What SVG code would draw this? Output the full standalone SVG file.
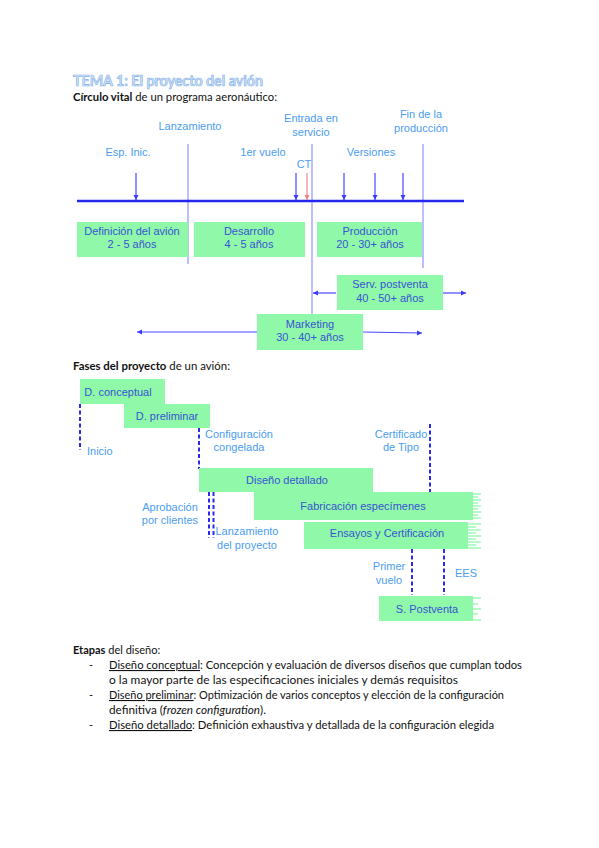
<svg xmlns="http://www.w3.org/2000/svg" width="599" height="848" viewBox="0 0 599 848">
<style>
.doc{font-family:Lato,"Open Sans","Liberation Sans",sans-serif;font-size:11px;fill:#111}
.b{font-weight:bold}
.lbl{font-family:"Liberation Sans",Arial,sans-serif;font-size:11px;fill:#4a9df0}
.bt{font-family:"Liberation Sans",Arial,sans-serif;font-size:11px;fill:#3a52d4;text-anchor:middle}
.box{fill:#8ff9a9}
.vl{stroke:#9a9aff;stroke-width:1.3}
.ar{stroke:#4747ff;stroke-width:1.2;fill:none}
.dl{stroke:#2a2aee;stroke-width:2;stroke-dasharray:4 2.5;fill:none}
.st{stroke:#8ff9a9;stroke-width:1.3}
</style>
<defs>
<marker id="ah" markerWidth="6" markerHeight="6" refX="5" refY="3" orient="auto" markerUnits="userSpaceOnUse">
<path d="M0,0.5 L5,3 L0,5.5 Z" fill="#3a3aff"/>
</marker>
<marker id="ahr" markerWidth="6" markerHeight="6" refX="5" refY="3" orient="auto" markerUnits="userSpaceOnUse">
<path d="M0,0.5 L5,3 L0,5.5 Z" fill="#f08080"/>
</marker>
</defs>
<rect width="599" height="848" fill="#fff"/>

<text x="73" y="86" font-family="Lato,'Open Sans',sans-serif" font-size="14.5" font-weight="bold" fill="#cfe2f7" stroke="#7fb0e8" stroke-width="0.6" textLength="190" lengthAdjust="spacingAndGlyphs">TEMA 1: El proyecto del avión</text>
<text class="doc" x="73" y="101" textLength="204" lengthAdjust="spacingAndGlyphs"><tspan class="b">Círculo vital</tspan> de un programa aeronáutico:</text>

<!-- Top timeline -->
<g id="timeline">
<line x1="188" y1="144" x2="188" y2="264" class="vl"/>
<line x1="312" y1="144" x2="312" y2="315" class="vl"/>
<line x1="423" y1="144" x2="423" y2="268" class="vl"/>
<line x1="77" y1="201" x2="464" y2="201" stroke="#2626f0" stroke-width="2.6"/>
</g>
<g id="markers">
<line x1="136" y1="173" x2="136" y2="200" class="ar" marker-end="url(#ah)"/>
<line x1="296" y1="173" x2="296" y2="200" class="ar" marker-end="url(#ah)"/>
<line x1="307" y1="173" x2="307" y2="200" stroke="#f08a8a" stroke-width="1.2" marker-end="url(#ahr)"/>
<line x1="344" y1="173" x2="344" y2="200" class="ar" marker-end="url(#ah)"/>
<line x1="375" y1="173" x2="375" y2="200" class="ar" marker-end="url(#ah)"/>
<line x1="403" y1="173" x2="403" y2="200" class="ar" marker-end="url(#ah)"/>
</g>
<g id="labels-top" class="lbl" text-anchor="middle">
<text x="190" y="130">Lanzamiento</text>
<text x="128" y="156">Esp. Inic.</text>
<text x="263" y="156">1er vuelo</text>
<text x="304" y="168">CT</text>
<text x="311" y="122">Entrada en</text>
<text x="311" y="136">servicio</text>
<text x="421" y="118">Fin de la</text>
<text x="421" y="132">producción</text>
<text x="371" y="156">Versiones</text>
</g>
<g id="n-definicion">
<rect class="box" x="77" y="222" width="111" height="35"/>
<text class="bt" x="132" y="235">Definición del avión</text>
<text class="bt" x="132" y="248">2 - 5 años</text>
</g>
<g id="n-desarrollo">
<rect class="box" x="194" y="222" width="111" height="35"/>
<text class="bt" x="249" y="235">Desarrollo</text>
<text class="bt" x="249" y="248">4 - 5 años</text>
</g>
<g id="n-produccion">
<rect class="box" x="317" y="222" width="105" height="35"/>
<text class="bt" x="370" y="235">Producción</text>
<text class="bt" x="370" y="248">20 - 30+ años</text>
</g>
<g id="connectors-top">
<line x1="336" y1="293" x2="313" y2="293" class="ar" marker-end="url(#ah)"/>
<line x1="443" y1="293" x2="466" y2="293" class="ar" marker-end="url(#ah)"/>
<line x1="257" y1="332" x2="137" y2="332" class="ar" marker-end="url(#ah)"/>
<line x1="363" y1="332" x2="422" y2="333" class="ar" marker-end="url(#ah)"/>
</g>
<g id="n-postventa">
<rect class="box" x="337" y="275" width="106" height="35"/>
<text class="bt" x="390" y="288">Serv. postventa</text>
<text class="bt" x="390" y="302">40 - 50+ años</text>
</g>
<g id="n-marketing">
<rect class="box" x="257" y="314" width="106" height="36"/>
<text class="bt" x="310" y="328">Marketing</text>
<text class="bt" x="310" y="341">30 - 40+ años</text>
</g>

<text class="doc" x="73" y="370" textLength="157" lengthAdjust="spacingAndGlyphs"><tspan class="b">Fases del proyecto</tspan> de un avión:</text>

<!-- Phases diagram -->
<g id="connectors-phases">
<line x1="80" y1="404" x2="80" y2="450" class="dl"/>
<line x1="199" y1="428" x2="199" y2="469" class="dl"/>
<line x1="430" y1="424" x2="430" y2="492" class="dl"/>
<line x1="209" y1="492" x2="209" y2="538" class="dl"/>
<line x1="213.5" y1="492" x2="213.5" y2="538" class="dl"/>
<line x1="412" y1="549" x2="412" y2="595" class="dl"/>
<line x1="444" y1="549" x2="444" y2="595" class="dl"/>
</g>
<g id="n-conceptual">
<rect class="box" x="80" y="379" width="85" height="25"/>
<text class="bt" x="118" y="396" font-size="11.5">D. conceptual</text>
</g>
<g id="n-preliminar">
<rect class="box" x="124" y="404" width="86" height="24"/>
<text class="bt" x="167" y="420" font-size="11.5">D. preliminar</text>
</g>
<g id="n-detallado">
<rect class="box" x="199" y="468" width="174" height="24"/>
<text class="bt" x="287" y="484" font-size="11.5">Diseño detallado</text>
</g>
<g id="n-fabricacion">
<rect class="box" x="254" y="492" width="219" height="28"/>
<g class="st">
<line x1="473" y1="494" x2="481" y2="494"/><line x1="473" y1="497" x2="478" y2="497"/>
<line x1="473" y1="500" x2="481" y2="500"/><line x1="473" y1="503" x2="478" y2="503"/>
<line x1="473" y1="506" x2="481" y2="506"/><line x1="473" y1="509" x2="478" y2="509"/>
<line x1="473" y1="512" x2="481" y2="512"/><line x1="473" y1="515" x2="478" y2="515"/>
<line x1="473" y1="518" x2="481" y2="518"/>
</g>
<text class="bt" x="363" y="510" font-size="11.5">Fabricación especímenes</text>
</g>
<g id="n-ensayos">
<rect class="box" x="304" y="522" width="164" height="27"/>
<g class="st">
<line x1="468" y1="524" x2="481" y2="524"/><line x1="468" y1="527" x2="476" y2="527"/>
<line x1="468" y1="530" x2="481" y2="530"/><line x1="468" y1="533" x2="476" y2="533"/>
<line x1="468" y1="536" x2="481" y2="536"/><line x1="468" y1="539" x2="476" y2="539"/>
<line x1="468" y1="542" x2="481" y2="542"/><line x1="468" y1="545" x2="476" y2="545"/>
<line x1="468" y1="548" x2="481" y2="548"/>
</g>
<text class="bt" x="387" y="537" font-size="11.5">Ensayos y Certificación</text>
</g>
<g id="n-spostventa">
<rect class="box" x="379" y="596" width="94" height="25"/>
<g class="st">
<line x1="473" y1="598" x2="481" y2="598"/><line x1="473" y1="604" x2="478" y2="604"/>
<line x1="473" y1="609" x2="481" y2="609"/><line x1="473" y1="614" x2="478" y2="614"/>
<line x1="473" y1="620" x2="481" y2="620"/>
</g>
<text class="bt" x="427" y="613" font-size="11.5">S. Postventa</text>
</g>
<g id="labels-phases" class="lbl">
<text x="87" y="455">Inicio</text>
<text x="239" y="438" text-anchor="middle">Configuración</text>
<text x="239" y="451" text-anchor="middle">congelada</text>
<text x="401" y="438" text-anchor="middle">Certificado</text>
<text x="401" y="451" text-anchor="middle">de Tipo</text>
<text x="170" y="511" text-anchor="middle">Aprobación</text>
<text x="170" y="524" text-anchor="middle">por clientes</text>
<text x="247" y="535" text-anchor="middle">Lanzamiento</text>
<text x="247" y="549" text-anchor="middle">del proyecto</text>
<text x="389" y="570" text-anchor="middle">Primer</text>
<text x="389" y="584" text-anchor="middle">vuelo</text>
<text x="455" y="577">EES</text>
</g>

<!-- Bottom text -->
<g id="etapas" class="doc">
<text x="73" y="654"><tspan class="b">Etapas</tspan> del diseño:</text>
<text x="89" y="669">-</text>
<text x="109" y="669" textLength="413" lengthAdjust="spacingAndGlyphs"><tspan text-decoration="underline">Diseño conceptual</tspan>: Concepción y evaluación de diversos diseños que cumplan todos</text>
<text x="109" y="684" textLength="349" lengthAdjust="spacingAndGlyphs">o la mayor parte de las especificaciones iniciales y demás requisitos</text>
<text x="89" y="699">-</text>
<text x="109" y="699" textLength="395" lengthAdjust="spacingAndGlyphs"><tspan text-decoration="underline">Diseño preliminar</tspan>: Optimización de varios conceptos y elección de la configuración</text>
<text x="109" y="714" textLength="157" lengthAdjust="spacingAndGlyphs">definitiva (<tspan font-style="italic">frozen configuration</tspan>).</text>
<text x="89" y="729">-</text>
<text x="109" y="729" textLength="385" lengthAdjust="spacingAndGlyphs"><tspan text-decoration="underline">Diseño detallado</tspan>: Definición exhaustiva y detallada de la configuración elegida</text>
</g>
</svg>
